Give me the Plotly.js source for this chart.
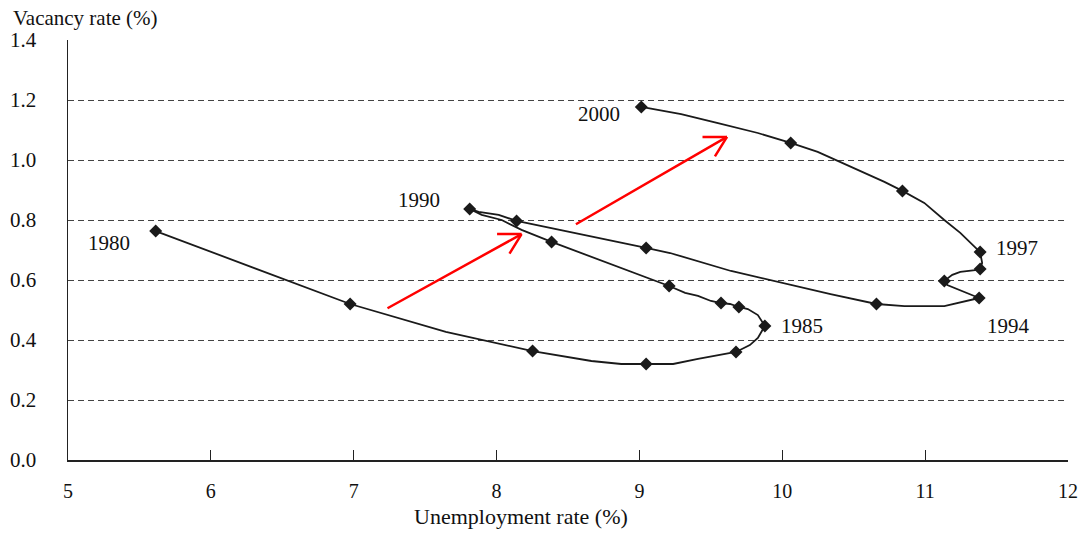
<!DOCTYPE html>
<html>
<head>
<meta charset="utf-8">
<script src="https://cdn.plot.ly/plotly-3.0.1.min.js"></script>
<style>html,body{margin:0;padding:0;background:#fff;}#chart{width:1079px;height:537px;}</style>
</head>
<body>
<div id="chart"></div>
<script>
// Path of the curve (unemployment %, vacancy %)
var pathX = [5.614, 6.975, 7.645, 8.252, 8.664, 8.873, 9.047, 9.236, 9.410, 9.571, 9.676, 9.773, 9.829, 9.878,
  9.829, 9.759, 9.696, 9.634, 9.571, 9.501, 9.410, 9.320, 9.208, 8.385, 8.175, 8.036, 7.896, 7.812,
  7.875, 8.015, 8.140, 9.047, 9.215, 9.641, 9.878, 10.338, 10.659, 10.855, 11.134, 11.281, 11.378,
  11.155, 11.134, 11.190, 11.246, 11.350, 11.385, 11.399, 11.392, 11.385, 11.246, 11.134, 10.994,
  10.841, 10.715, 10.478, 10.248, 10.059, 9.829, 9.550, 9.292, 9.013];
var pathY = [0.763, 0.520, 0.427, 0.363, 0.330, 0.320, 0.320, 0.320, 0.337, 0.350, 0.360, 0.383, 0.407, 0.447,
  0.483, 0.503, 0.510, 0.520, 0.523, 0.530, 0.547, 0.557, 0.580, 0.727, 0.767, 0.800, 0.817, 0.837,
  0.827, 0.817, 0.797, 0.707, 0.690, 0.630, 0.603, 0.553, 0.520, 0.513, 0.513, 0.530, 0.540,
  0.583, 0.597, 0.617, 0.627, 0.633, 0.637, 0.657, 0.677, 0.693, 0.757, 0.800, 0.857,
  0.897, 0.927, 0.977, 1.027, 1.057, 1.090, 1.123, 1.153, 1.177];

// Annual observations (diamond markers)
var years = [1980, 1981, 1982, 1983, 1984, 1985, 1986, 1987, 1988, 1989, 1990,
  1991, 1992, 1993, 1994, 1995, 1996, 1997, 1998, 1999, 2000];
var unemp = [5.614, 6.975, 8.252, 9.047, 9.676, 9.878, 9.696, 9.571, 9.208, 8.385, 7.812,
  8.140, 9.047, 10.659, 11.378, 11.134, 11.385, 11.385, 10.841, 10.059, 9.013];
var vacancy = [0.763, 0.520, 0.363, 0.320, 0.360, 0.447, 0.510, 0.523, 0.580, 0.727, 0.837,
  0.797, 0.707, 0.520, 0.540, 0.597, 0.637, 0.693, 0.897, 1.057, 1.177];

// Year labels
var labelText = ['1980', '1985', '1990', '1994', '1997', '2000'];
var labelX = [5.286, 10.136, 7.460, 11.581, 11.643, 8.720];
var labelY = [0.723, 0.447, 0.867, 0.447, 0.707, 1.152];

// Red arrows: tail and head
var arrowTailX = [7.226, 8.545];
var arrowTailY = [0.503, 0.783];
var arrowHeadX = [8.175, 9.613];
var arrowHeadY = [0.753, 1.077];

var xTicks = [5, 6, 7, 8, 9, 10, 11, 12];
var yTicks = [0, 0.2, 0.4, 0.6, 0.8, 1.0, 1.2, 1.4];
var yTickText = ['0.0', '0.2', '0.4', '0.6', '0.8', '1.0', '1.2', '1.4'];

var FONT = 'Liberation Serif, Times New Roman, serif';

var traces = [
  {x: pathX, y: pathY, type: 'scatter', mode: 'lines',
   line: {color: '#1a1a1a', width: 1.8}, hoverinfo: 'skip', showlegend: false},
  {x: unemp, y: vacancy, text: years, type: 'scatter', mode: 'markers',
   marker: {symbol: 'diamond', size: 10, color: '#1a1a1a'}, showlegend: false}
];

var ann = [];
for (var i = 0; i < labelText.length; i++) {
  ann.push({x: labelX[i], y: labelY[i], xref: 'x', yref: 'y', text: labelText[i],
    showarrow: false, font: {family: FONT, size: 21, color: '#111'}});
}
for (var j = 0; j < arrowHeadX.length; j++) {
  ann.push({x: arrowHeadX[j], y: arrowHeadY[j], ax: arrowTailX[j], ay: arrowTailY[j],
    xref: 'x', yref: 'y', axref: 'x', ayref: 'y', text: '', showarrow: true,
    arrowhead: 0, arrowwidth: 2.5, arrowcolor: '#ff0000', standoff: 0, startstandoff: 0});
  ann.push({x: arrowHeadX[j], y: arrowHeadY[j], ax: -26, ay: 0,
    xref: 'x', yref: 'y', text: '', showarrow: true,
    arrowhead: 0, arrowwidth: 2.5, arrowcolor: '#ff0000', standoff: 0});
  ann.push({x: arrowHeadX[j], y: arrowHeadY[j], ax: -13, ay: 21,
    xref: 'x', yref: 'y', text: '', showarrow: true,
    arrowhead: 0, arrowwidth: 2.5, arrowcolor: '#ff0000', standoff: 0});
}
ann.push({xref: 'paper', yref: 'paper', x: -0.057, y: 1.052, xanchor: 'left', yanchor: 'middle',
  text: 'Vacancy rate (%)', showarrow: false, font: {family: FONT, size: 21, color: '#111'}});
ann.push({xref: 'paper', yref: 'paper', x: 0.453, y: -0.1357, xanchor: 'center', yanchor: 'middle',
  text: 'Unemployment rate (%)', showarrow: false, font: {family: FONT, size: 22, color: '#111'}});

var layout = {
  width: 1079, height: 537,
  margin: {l: 68, r: 11, t: 40, b: 77},
  paper_bgcolor: '#fff', plot_bgcolor: '#fff',
  font: {family: FONT, size: 21, color: '#111'},
  xaxis: {range: [5, 12], tickvals: xTicks, ticktext: xTicks.map(String),
    showgrid: false, zeroline: false, showline: true, linecolor: '#222', linewidth: 1.5,
    ticks: 'inside', ticklen: 10, tickcolor: '#222', tickwidth: 1,
    ticklabelstandoff: 12, ticklabeloverflow: 'allow',
    tickfont: {family: FONT, size: 20, color: '#111'}},
  yaxis: {range: [0, 1.4], tickvals: yTicks, ticktext: yTickText,
    showgrid: true, gridcolor: '#444', gridwidth: 1, griddash: '6px,4px',
    zeroline: false, showline: true, linecolor: '#222', linewidth: 1.5,
    ticks: '', ticklabelstandoff: 26, ticklabeloverflow: 'allow',
    tickfont: {family: FONT, size: 21, color: '#111'}},
  annotations: ann
};

Plotly.newPlot('chart', traces, layout, {staticPlot: true, displayModeBar: false});
</script>
</body>
</html>
